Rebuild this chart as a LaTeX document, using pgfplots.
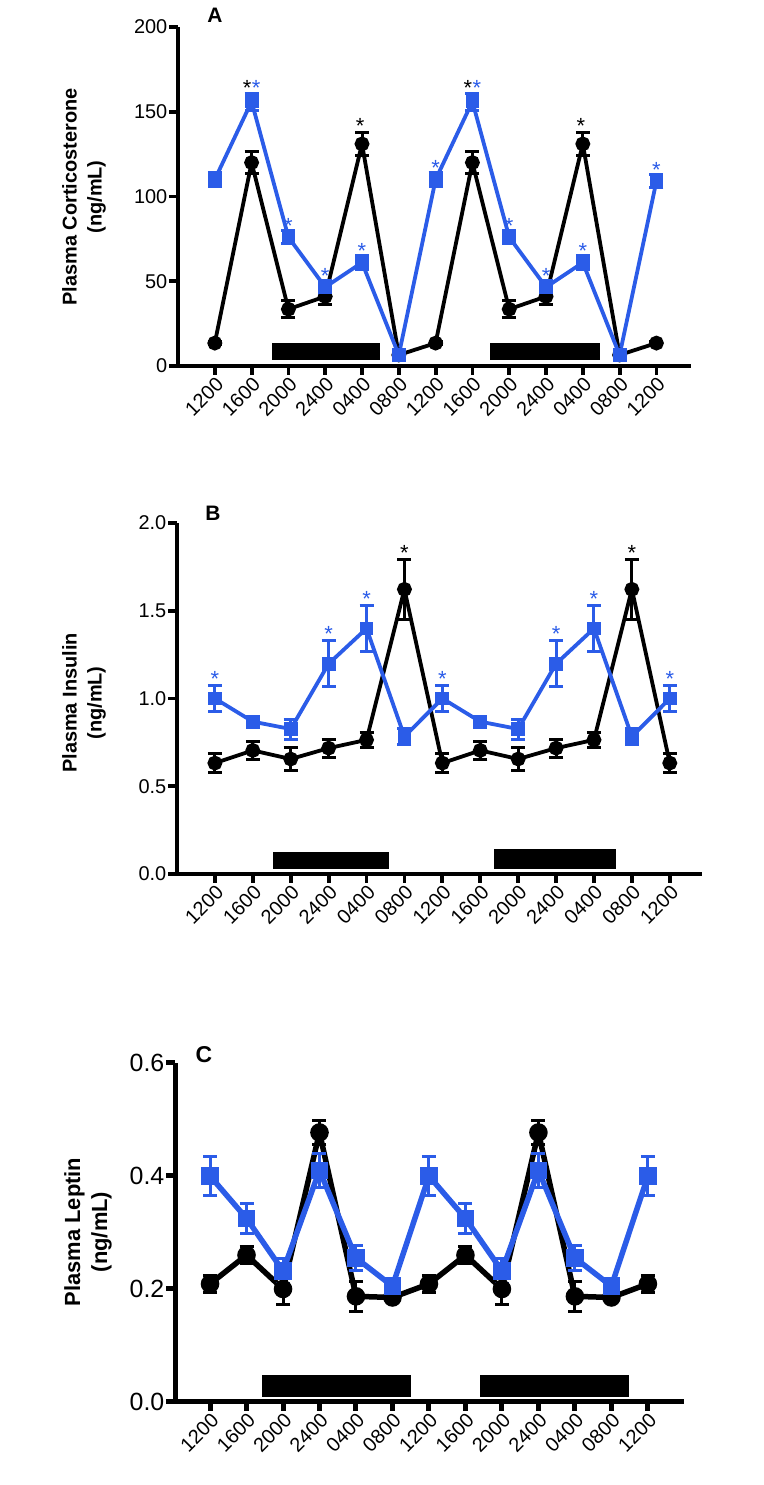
\documentclass[border=0pt]{standalone}
\usepackage{pgfplots}
\pgfplotsset{compat=1.18}
\usepackage{pgfplotstable}
\usepackage{fontspec}
\setmainfont{Liberation Sans}
\definecolor{bl}{RGB}{43,92,232}

\pgfplotstableread{
x y e
0 13.5 1
1 120 6.5
2 33.5 5
3 41 4.5
4 131 7
5 6.5 1
6 13.5 1
7 120 6.5
8 33.5 5
9 41 4.5
10 131 7
11 6.5 1
12 13.5 1
}\Ak
\pgfplotstableread{
x y e
0 110 4
1 156 5
2 76 4
3 46.5 4
4 61 4
5 6.5 1
6 110 4
7 156 5
8 76 4
9 46.5 4
10 61 4
11 6.5 1
12 109 4
}\Ab
\pgfplotstableread{
x y e
0 0.632 0.053
1 0.704 0.052
2 0.655 0.067
3 0.717 0.051
4 0.764 0.045
5 1.622 0.17
6 0.632 0.053
7 0.704 0.052
8 0.655 0.067
9 0.717 0.051
10 0.764 0.045
11 1.622 0.17
12 0.632 0.053
}\Bk
\pgfplotstableread{
x y e
0 1.00 0.072
1 0.868 0.02
2 0.826 0.057
3 1.198 0.13
4 1.399 0.13
5 0.783 0.045
6 1.00 0.072
7 0.868 0.02
8 0.826 0.057
9 1.198 0.13
10 1.399 0.13
11 0.783 0.045
12 1.00 0.072
}\Bb
\pgfplotstableread{
x y e
0 0.209 0.015
1 0.260 0.015
2 0.200 0.027
3 0.477 0.021
4 0.187 0.026
5 0.185 0.005
6 0.209 0.015
7 0.260 0.015
8 0.200 0.027
9 0.477 0.021
10 0.187 0.026
11 0.185 0.005
12 0.209 0.015
}\Ck
\pgfplotstableread{
x y e
0 0.400 0.035
1 0.325 0.027
2 0.232 0.022
3 0.410 0.030
4 0.255 0.022
5 0.205 0.010
6 0.400 0.035
7 0.325 0.027
8 0.232 0.022
9 0.410 0.030
10 0.255 0.022
11 0.205 0.010
12 0.400 0.035
}\Cb

\newcommand\tfont{\fontsize{20}{20}\selectfont}
\newcommand\lfont{\bfseries\fontsize{20}{25}\selectfont}

\pgfplotsset{
  panel/.style={
    scale only axis, axis lines=left,
    axis line style={-, line width=3.8bp},
    clip=false, tick align=outside, major tick length=9bp,
    tick style={line width=3.8bp, black},
    xtick={0,...,12},
    xticklabels={1200,1600,2000,2400,0400,0800,1200,1600,2000,2400,0400,0800,1200},
    xticklabel style={rotate=45, anchor=north east, font=\tfont, inner sep=0.5bp},
    yticklabel style={font=\tfont, inner sep=1.5bp},
    ymin=0,
  },
  kser/.style={black, line width=#1, mark=*, mark size=5.5bp,
    error bars/y dir=both, error bars/y explicit,
    error bars/error bar style={line width=3bp, black},
    error bars/error mark options={rotate=90, mark size=7bp, line width=3bp, black}},
  kser/.default=3.8bp,
  bser/.style={bl, line width=#1, mark=square*, mark size=5bp,
    error bars/y dir=both, error bars/y explicit,
    error bars/error bar style={line width=3bp, bl},
    error bars/error mark options={rotate=90, mark size=7bp, line width=3bp, bl}},
  bser/.default=3.8bp,
  stars/.style={draw=none, mark=none, nodes near coords={*},
    every node near coord/.append style={anchor=south, inner sep=0.5bp,
      font=\fontsize{22}{22}\selectfont, color=#1}},
}

\begin{document}
\begin{tikzpicture}[x=1bp,y=1bp]
\path[use as bounding box] (0,0) rectangle (763,1485);

% ---------- Panel A
\begin{axis}[panel, at={(178bp,1119bp)}, anchor=south west,
  width=513bp, height=339bp, xmin=-1, xmax=12.94, ymax=200,
  ytick={0,50,100,150,200}, yticklabels={0,50,100,150,200}]
\addplot[fill=black, draw=none] coordinates {(1.55,3.5) (4.5,3.5) (4.5,13.3) (1.55,13.3)} -- cycle;
\addplot[fill=black, draw=none] coordinates {(7.47,3.5) (10.47,3.5) (10.47,13.3) (7.47,13.3)} -- cycle;
\addplot[kser] table[x=x, y=y, y error=e] {\Ak};
\addplot[bser] table[x=x, y=y, y error=e] {\Ab};
\addplot[stars=black] coordinates {(0.88,159) (3.95,136.5) (6.88,159) (9.95,136.5)};
\addplot[stars=bl] coordinates {(1.12,159) (2.0,78) (3.0,48.5) (4.0,63) (6.0,112) (7.12,159) (8.0,78) (9.0,48.5) (10.0,63) (12.0,111)};
\end{axis}
\node[font=\bfseries\fontsize{21}{21}\selectfont] at (215,1470) {A};
\node[rotate=90, align=center, font=\lfont] at (84,1288) {Plasma Corticosterone\\(ng/mL)};

% ---------- Panel B
\begin{axis}[panel, at={(177bp,611bp)}, anchor=south west,
  width=525bp, height=351bp, xmin=-1, xmax=12.85, ymax=2,
  ytick={0,0.5,1,1.5,2}, yticklabels={0.0,0.5,1.0,1.5,2.0}]
\addplot[fill=black, draw=none] coordinates {(1.52,0.031) (4.6,0.031) (4.6,0.127) (1.52,0.127)} -- cycle;
\addplot[fill=black, draw=none] coordinates {(7.35,0.031) (10.59,0.031) (10.59,0.143) (7.35,0.143)} -- cycle;
\addplot[kser] table[x=x, y=y, y error=e] {\Bk};
\addplot[bser] table[x=x, y=y, y error=e] {\Bb};
\addplot[stars=black] coordinates {(5,1.78) (11,1.78)};
\addplot[stars=bl] coordinates {(0,1.062) (3,1.318) (4,1.519) (6,1.062) (9,1.318) (10,1.519) (12,1.062)};
\end{axis}
\node[font=\bfseries\fontsize{21}{21}\selectfont] at (213,972) {B};
\node[rotate=90, align=center, font=\lfont] at (84,782) {Plasma Insulin\\(ng/mL)};

% ---------- Panel C
\begin{axis}[panel, at={(175bp,83bp)}, anchor=south west,
  width=509bp, height=339bp, xmin=-0.96, xmax=12.99, ymax=0.6,
  axis line style={-, line width=5bp}, tick style={line width=5bp, black},
  ytick={0,0.2,0.4,0.6}, yticklabels={0.0,0.2,0.4,0.6},
  yticklabel style={font=\fontsize{25}{25}\selectfont, inner sep=1.5bp}]
\addplot[fill=black, draw=none] coordinates {(1.43,0.0095) (5.52,0.0095) (5.52,0.048) (1.43,0.048)} -- cycle;
\addplot[fill=black, draw=none] coordinates {(7.39,0.0095) (11.49,0.0095) (11.49,0.048) (7.39,0.048)} -- cycle;
\addplot[kser=5.5bp, mark size=6.5bp] table[x=x, y=y, y error=e] {\Ck};
\addplot[bser=5.5bp, mark size=6bp] table[x=x, y=y, y error=e] {\Cb};
\end{axis}
\node[font=\bfseries\fontsize{23}{23}\selectfont] at (204,430) {C};
\node[rotate=90, align=center, font=\bfseries\fontsize{22}{27}\selectfont] at (88,253) {Plasma Leptin\\(ng/mL)};
\end{tikzpicture}
\end{document}
